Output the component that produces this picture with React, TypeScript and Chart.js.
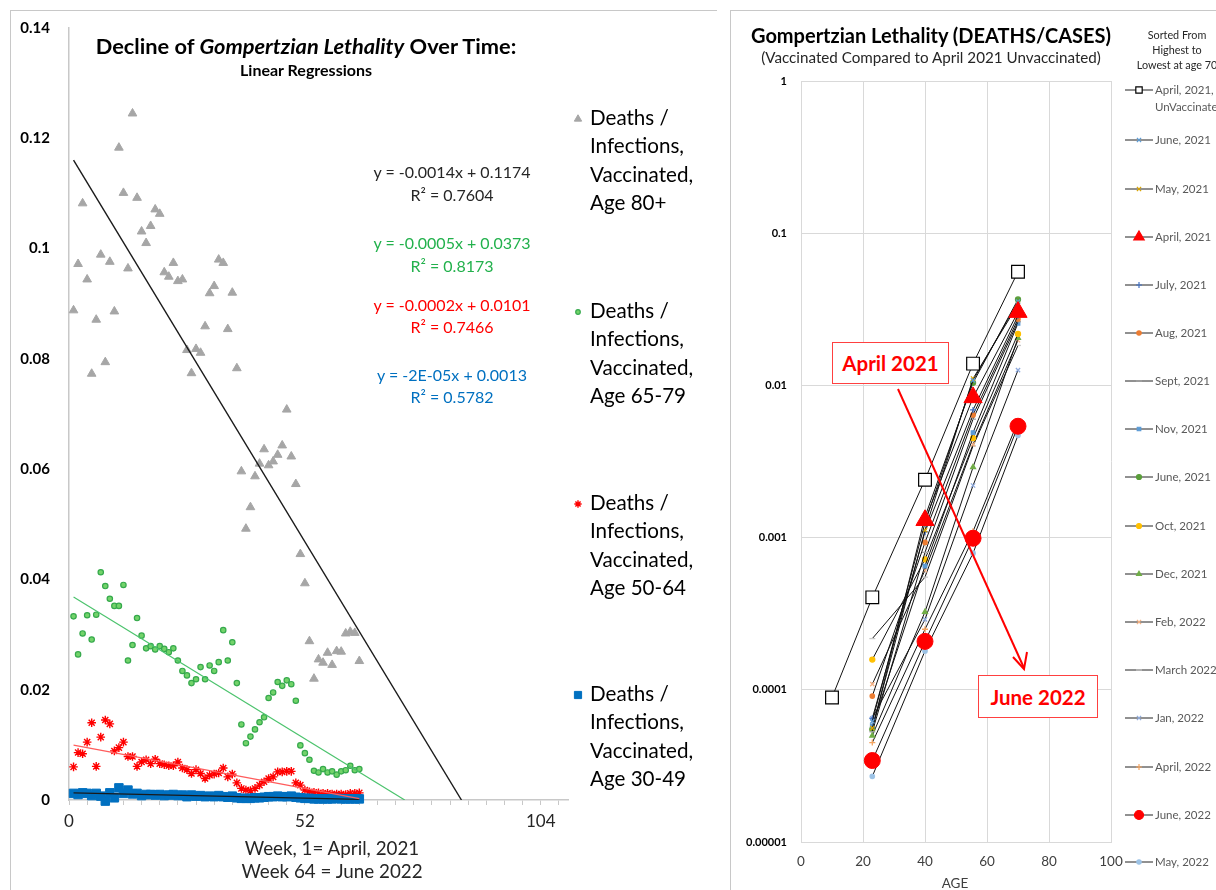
import React, { useEffect, useRef } from "react";
import { Chart, registerables } from "chart.js";
import { drawPoint } from "chart.js/helpers";

Chart.register(...registerables);

const FONT = "Lato, 'Open Sans', 'DejaVu Sans', sans-serif";

// ---------------- LEFT CHART DATA ----------------
const weeks = [
  1, 2, 3, 4, 5, 6, 7, 8, 9, 10, 11, 12, 13, 14, 15, 16, 17, 18, 19, 20, 21, 22, 23, 24, 25, 26, 27, 28, 29, 30, 31, 32,
  33, 34, 35, 36, 37, 38, 39, 40, 41, 42, 43, 44, 45, 46, 47, 48, 49, 50, 51, 52, 53, 54, 55, 56, 57, 58, 59, 60, 61, 62, 63, 64,
];
const lethalityAge80 = [
  0.0888, 0.0972, 0.1082, 0.0944, 0.0773, 0.0871, 0.0989, 0.0794, 0.0976, 0.0886, 0.1183, 0.1101, 0.0964, 0.1245, 0.1092, 0.1031,
  0.101, 0.1041, 0.1071, 0.1063, 0.0957, 0.0949, 0.0974, 0.0941, 0.0944, 0.0816, 0.0774, 0.0818, 0.0811, 0.0859, 0.0919, 0.0932,
  0.098, 0.0974, 0.0854, 0.092, 0.0783, 0.0596, 0.0492, 0.0531, 0.0587, 0.061, 0.0636, 0.0607, 0.0614, 0.0626, 0.0643, 0.0708,
  0.0623, 0.0573, 0.0446, 0.0393, 0.0288, 0.022, 0.0255, 0.0249, 0.0267, 0.0245, 0.027, 0.0269, 0.0302, 0.0305, 0.0303, 0.0252,
];
const lethalityAge65 = [
  0.0333, 0.0264, 0.0302, 0.0335, 0.0291, 0.0336, 0.0413, 0.0388, 0.0365, 0.0352, 0.0352, 0.039, 0.0253, 0.0281, 0.033, 0.0298,
  0.0275, 0.0279, 0.0273, 0.0279, 0.0274, 0.0268, 0.0275, 0.0253, 0.0234, 0.0226, 0.0212, 0.0219, 0.0241, 0.0219, 0.0244, 0.0234,
  0.025, 0.0308, 0.0253, 0.0286, 0.0212, 0.0137, 0.0103, 0.0115, 0.0128, 0.0141, 0.015, 0.0185, 0.0195, 0.0214, 0.0207, 0.0217,
  0.021, 0.018, 0.0099, 0.0085, 0.0073, 0.0053, 0.005, 0.0056, 0.005, 0.0052, 0.0046, 0.0052, 0.0054, 0.0062, 0.0054, 0.0056,
];
const lethalityAge50 = [
  0.006, 0.0086, 0.0084, 0.0105, 0.014, 0.0061, 0.0114, 0.0145, 0.0138, 0.0089, 0.0095, 0.0105, 0.0079, 0.0079, 0.0061, 0.0069,
  0.0073, 0.0066, 0.0074, 0.0066, 0.0064, 0.0062, 0.0062, 0.0069, 0.0058, 0.0055, 0.0048, 0.0055, 0.0048, 0.0039, 0.0045, 0.0047,
  0.0049, 0.0058, 0.0042, 0.0047, 0.0031, 0.0021, 0.0018, 0.0017, 0.0021, 0.0027, 0.0033, 0.0039, 0.0042, 0.0051, 0.0051, 0.0052,
  0.0052, 0.0031, 0.0027, 0.0018, 0.0015, 0.0014, 0.0013, 0.0012, 0.0012, 0.0011, 0.0011, 0.0011, 0.001, 0.0012, 0.0012, 0.0013,
];
const lethalityAge30 = [
  0.0012, 0.001, 0.0013, 0.0012, 0.0008, 0.0012, 0.0007, -0.0002, 0.0013, 0.0004, 0.0022, 0.0012, 0.0018, 0.0011, 0.0012, 0.0008,
  0.001, 0.001, 0.0009, 0.001, 0.0008, 0.0009, 0.001, 0.0008, 0.0009, 0.0006, 0.0009, 0.0007, 0.0008, 0.0006, 0.0007, 0.0006,
  0.0008, 0.0006, 0.0005, 0.0007, 0.0004, 0.0003, 0.0003, 0.0003, 0.0004, 0.0004, 0.0005, 0.0006, 0.0006, 0.0007, 0.0006, 0.0006,
  0.0007, 0.0005, 0.0004, 0.0003, 0.0003, 0.0002, 0.0002, 0.0002, 0.0002, 0.0002, 0.0003, 0.0002, 0.0002, 0.0002, 0.0002, 0.0002,
];
const leftLegendLines = [
  ["Deaths /", "Infections,", "Vaccinated,", "Age 80+"],
  ["Deaths /", "Infections,", "Vaccinated,", "Age 65-79"],
  ["Deaths /", "Infections,", "Vaccinated,", "Age 50-64"],
  ["Deaths /", "Infections,", "Vaccinated,", "Age 30-49"],
];
const trendSlopes = [-0.001357, -0.000504, -0.000154, -0.0000185];
const trendIntercepts = [0.1174, 0.0373, 0.0101, 0.0013];
const trendForecastToZero = [true, true, false, false];
const regressionEquations = [
  ["y = -0.0014x + 0.1174", "R² = 0.7604"],
  ["y = -0.0005x + 0.0373", "R² = 0.8173"],
  ["y = -0.0002x + 0.0101", "R² = 0.7466"],
  ["y = -2E-05x + 0.0013", "R² = 0.5782"],
];
const leftXTickLabels = [0, 52, 104];
const leftYTicks = [0, 0.02, 0.04, 0.06, 0.08, 0.1, 0.12, 0.14];

// ---------------- RIGHT CHART DATA ----------------
const unvaxAges = [10, 23, 40, 55.5, 70];
const vaxAges = [23, 40, 55.5, 70];
const rightSeriesNames = [
  "April, 2021, UnVaccinated",
  "June, 2021",
  "May, 2021",
  "April, 2021",
  "July, 2021",
  "Aug, 2021",
  "Sept, 2021",
  "Nov, 2021",
  "June, 2021",
  "Oct, 2021",
  "Dec, 2021",
  "Feb, 2022",
  "March 2022",
  "Jan, 2022",
  "April, 2022",
  "June, 2022",
  "May, 2022",
];
const rightSeriesValues: (number | null)[][] = [
  [0.000089, 0.000405, 0.0024, 0.0139, 0.0558],
  [0.000062, 0.00125, 0.0108, 0.0355],
  [0.000056, 0.00112, 0.0111, 0.034],
  [null, 0.0013, 0.00834, 0.0303],
  [0.000065, 0.00109, 0.0069, 0.0287],
  [0.000091, 0.00093, 0.0064, 0.0273],
  [0.000053, 0.0008, 0.006, 0.0262],
  [0.000058, 0.00065, 0.0049, 0.0256],
  [0.000055, 0.00137, 0.0104, 0.0367],
  [0.000158, 0.00072, 0.0045, 0.0218],
  [0.00005, 0.000325, 0.0029, 0.0205],
  [0.000109, 0.00061, 0.0041, 0.0198],
  [0.000217, 0.00055, 0.004, 0.0183],
  [0.000065, 0.00029, 0.0022, 0.0126],
  [0.000045, 0.00025, 0.0011, 0.0058],
  [0.0000343, 0.000208, 0.00099, 0.00539],
  [0.000027, 0.00018, 0.00079, 0.0047],
];
const rightYTicks = [0.00001, 0.0001, 0.001, 0.01, 0.1, 1];
const rightYTickLabels = ["0.00001", "0.0001", "0.001", "0.01", "0.1", "1"];

// styles (not data)
const rightPointStyle = [
  "rect", "crossRot", "crossRot", "triangle", "cross", "circle", "line", "rect", "circle",
  "circle", "triangle", "crossRot", "line", "crossRot", "cross", "circle", "circle",
];
const rightPointColor = [
  "#000000", "#5b9bd5", "#d9a400", "#ff0000", "#4472c4", "#ed7d31", "#a5a5a5", "#5b9bd5", "#5a9e3a",
  "#ffc000", "#70ad47", "#f4b183", "#c9c9c9", "#8faadc", "#f4a460", "#ff0000", "#9dc3e6",
];
const rightPointRadius = [9, 3, 3, 10.5, 3, 2.2, 3, 2.5, 2.5, 2.5, 2.8, 3, 3, 3, 3, 8, 2.2];
const rightLegendRadius = [4.5, 3, 3, 6, 3, 2.2, 3, 2.5, 2.5, 2.5, 2.8, 3, 3, 3, 3, 4.5, 2.2];
const rightLegendRows = [90, 140, 189, 237, 285, 333, 381, 429, 477, 526, 574, 622, 670, 718, 767, 815, 862];

const leftMarkerStyles = [
  { pointStyle: "triangle", radius: 5, bg: "#a6a6a6", border: "#a6a6a6", bw: 1 },
  { pointStyle: "circle", radius: 2.7, bg: "#73d36a", border: "#35a94c", bw: 1.2 },
  { pointStyle: "star", radius: 4.3, bg: "#ff0000", border: "#ff0000", bw: 1.4 },
  { pointStyle: "rect", radius: 6, bg: "#0070c0", border: "#0070c0", bw: 1 },
];
const trendColors = ["#1a1a1a", "#4cc36d", "#ff5c5c", "#1a1a1a"];
const eqColors = ["#262626", "#22b14c", "#ff0000", "#0070c0"];
const eqRows = [
  [172, 195],
  [243, 266],
  [305, 327],
  [375, 397],
];
const leftLegendRows = [118, 311, 503, 694];

function Txt(props: any) {
  const { x, y, size, weight = 400, italic = false, color = "#000", align = "center", children } = props;
  const tx = align === "center" ? "-50%" : align === "right" ? "-100%" : "0";
  return (
    <div
      style={{
        position: "absolute",
        left: x,
        top: y,
        transform: `translate(${tx},-50%)`,
        fontFamily: FONT,
        fontSize: size,
        fontWeight: weight,
        fontStyle: italic ? "italic" : "normal",
        color,
        whiteSpace: "nowrap",
        lineHeight: 1.15,
      }}
    >
      {children}
    </div>
  );
}

function LeftChart() {
  const ref = useRef<HTMLCanvasElement>(null);
  useEffect(() => {
    const series = [lethalityAge80, lethalityAge65, lethalityAge50, lethalityAge30];
    const datasets: any[] = [];
    series.forEach((vals, i) => {
      const st = leftMarkerStyles[i];
      datasets.push({
        label: leftLegendLines[i].join(" "),
        data: weeks.map((w, k) => ({ x: w, y: vals[k] })),
        pointStyle: st.pointStyle,
        pointRadius: st.radius,
        pointBackgroundColor: st.bg,
        pointBorderColor: st.border,
        pointBorderWidth: st.bw,
        showLine: false,
        clip: false,
        order: 10 - i,
      });
    });
    trendSlopes.forEach((m, i) => {
      const b = trendIntercepts[i];
      const xEnd = trendForecastToZero[i] ? -b / m : weeks[weeks.length - 1];
      datasets.push({
        label: "trend" + i,
        data: [
          { x: weeks[0], y: b + m * weeks[0] },
          { x: xEnd, y: b + m * xEnd },
        ],
        showLine: true,
        borderColor: trendColors[i],
        borderWidth: i === 0 ? 1.4 : 1.2,
        pointRadius: 0,
        order: 1,
      });
    });
    const legendPlugin = {
      id: "leftLegendMarkers",
      afterDraw(chart: any) {
        const ctx = chart.ctx;
        leftMarkerStyles.forEach((st, i) => {
          ctx.save();
          ctx.fillStyle = st.bg;
          ctx.strokeStyle = st.border;
          ctx.lineWidth = st.bw;
          drawPoint(ctx, { pointStyle: st.pointStyle, radius: st.radius * 0.85, rotation: 0, borderWidth: st.bw } as any, 578, leftLegendRows[i] + 1);
          ctx.restore();
        });
      },
    };
    const chart = new Chart(ref.current!, {
      type: "scatter",
      data: { datasets },
      plugins: [legendPlugin],
      options: {
        responsive: false,
        animation: false,
        devicePixelRatio: 1,
        layout: { padding: { left: 0, right: 152, top: 22, bottom: 0 } },
        plugins: { legend: { display: false }, tooltip: { enabled: false }, title: { display: false } },
        scales: {
          x: {
            type: "linear",
            min: 0,
            max: 110,
            afterBuildTicks: (s: any) => {
              const t = [];
              for (let v = 0; v <= s.max; v += 4) t.push({ value: v });
              s.ticks = t;
            },
            afterFit: (s: any) => {
              s.height = 90;
            },
            ticks: {
              autoSkip: false,
              maxRotation: 0,
              padding: 6,
              color: "#262626",
              font: { family: FONT, size: 17 },
              callback: (v: any) => (leftXTickLabels.includes(Number(v)) ? String(v) : ""),
            },
            grid: { display: true, drawOnChartArea: false, drawTicks: true, tickLength: 5, color: "#c8c8c8" },
            border: { display: true, color: "#c8c8c8", width: 1.5 },
          },
          y: {
            type: "linear",
            min: 0,
            max: 0.14,
            afterBuildTicks: (s: any) => {
              s.ticks = leftYTicks.map((v) => ({ value: v }));
            },
            afterFit: (s: any) => {
              s.width = 69;
            },
            ticks: {
              padding: 19,
              color: "#000",
              font: { family: FONT, size: 15, weight: "bold" },
              callback: (v: any) => String(parseFloat(Number(v).toFixed(2))),
            },
            grid: { display: false, drawTicks: false },
            border: { display: true, color: "#c8c8c8", width: 1.5 },
          },
        },
      },
    });
    return () => chart.destroy();
  }, []);
  return <canvas ref={ref} width={720} height={890} style={{ position: "absolute", left: 0, top: 0 }} />;
}

function RightChart() {
  const ref = useRef<HTMLCanvasElement>(null);
  useEffect(() => {
    const datasets: any[] = rightSeriesValues.map((vals, i) => {
      const xs = i === 0 ? unvaxAges : vaxAges;
      const big = i === 0 || i === 3 || i === 15;
      return {
        label: rightSeriesNames[i],
        data: xs.map((a, k) => ({ x: a, y: vals[k] })),
        showLine: true,
        borderColor: "#111111",
        borderWidth: 1,
        pointStyle: rightPointStyle[i],
        pointRadius: rightPointRadius[i],
        pointBackgroundColor: i === 0 ? "#ffffff" : rightPointColor[i],
        pointBorderColor: rightPointColor[i],
        pointBorderWidth: i === 0 ? 1.2 : big ? 1 : 1.3,
        spanGaps: false,
        clip: false,
        order: big ? 1 : 5,
      };
    });
    const legendPlugin = {
      id: "rightLegendMarkers",
      afterDraw(chart: any) {
        const ctx = chart.ctx;
        const ox = 720;
        rightLegendRows.forEach((yy, i) => {
          ctx.save();
          ctx.strokeStyle = "#222";
          ctx.lineWidth = 1;
          ctx.beginPath();
          ctx.moveTo(1125 - ox, yy);
          ctx.lineTo(1153 - ox, yy);
          ctx.stroke();
          ctx.fillStyle = i === 0 ? "#ffffff" : rightPointColor[i];
          ctx.strokeStyle = rightPointColor[i];
          ctx.lineWidth = 1.2;
          drawPoint(ctx, { pointStyle: rightPointStyle[i], radius: rightLegendRadius[i], rotation: 0, borderWidth: ctx.lineWidth } as any, 1139 - ox, yy);
          ctx.restore();
        });
      },
    };
    const chart = new Chart(ref.current!, {
      type: "scatter",
      data: { datasets },
      plugins: [legendPlugin],
      options: {
        responsive: false,
        animation: false,
        devicePixelRatio: 1,
        layout: { padding: { left: 0, right: 105, top: 81, bottom: 0 } },
        plugins: { legend: { display: false }, tooltip: { enabled: false } },
        scales: {
          x: {
            type: "linear",
            min: 0,
            max: 100,
            ticks: { stepSize: 20, padding: 12, color: "#404040", font: { family: FONT, size: 13.5 }, maxRotation: 0 },
            afterFit: (s: any) => {
              s.height = 48;
            },
            grid: { color: "#d9d9d9", drawTicks: false, lineWidth: 1 },
            border: { display: true, color: "#d9d9d9" },
          },
          y: {
            type: "logarithmic",
            min: 0.00001,
            max: 1,
            afterBuildTicks: (s: any) => {
              s.ticks = rightYTicks.map((v) => ({ value: v }));
            },
            afterFit: (s: any) => {
              s.width = 81;
            },
            ticks: {
              padding: 14,
              color: "#000",
              font: { family: FONT, size: 11, weight: "bold" },
              callback: (v: any) => {
                const k = rightYTicks.findIndex((t) => Math.abs(Math.log10(t) - Math.log10(Number(v))) < 1e-6);
                return k >= 0 ? rightYTickLabels[k] : "";
              },
            },
            grid: { color: "#d9d9d9", drawTicks: false, lineWidth: 1 },
            border: { display: true, color: "#d9d9d9" },
          },
        },
      },
    });
    return () => chart.destroy();
  }, []);
  return <canvas ref={ref} width={496} height={890} style={{ position: "absolute", left: 720, top: 0 }} />;
}

export default function App() {
  const legendColor = "#595959";
  const boxStyle: any = {
    position: "absolute",
    border: "1.5px solid #ff4040",
    background: "#fff",
    boxSizing: "border-box",
    display: "flex",
    alignItems: "center",
    justifyContent: "center",
    fontFamily: FONT,
    fontWeight: 700,
    fontSize: 20.5,
    color: "#ff0000",
  };
  return (
    <div style={{ position: "fixed", left: 0, top: 0, width: 1216, height: 890, overflow: "hidden", background: "#fff" }}>
      {/* panel frames */}
      <div style={{ position: "absolute", left: 10, top: 10, width: 706, height: 890, borderLeft: "1.5px solid #c8c8c8", borderTop: "1.5px solid #c8c8c8" }} />
      <div style={{ position: "absolute", left: 730, top: 10, width: 500, height: 890, borderLeft: "1.5px solid #c8c8c8", borderTop: "1.5px solid #c8c8c8" }} />

      <LeftChart />
      <RightChart />

      {/* left panel texts */}
      <Txt x={306} y={46} size={21.8} weight={700}>
        Decline of <i>Gompertzian Lethality</i> Over Time:
      </Txt>
      <Txt x={306} y={70} size={16} weight={700}>
        Linear Regressions
      </Txt>
      {regressionEquations.map((eq, i) => (
        <React.Fragment key={"eq" + i}>
          <Txt x={452} y={eqRows[i][0]} size={16} color={eqColors[i]}>
            {eq[0]}
          </Txt>
          <Txt x={452} y={eqRows[i][1]} size={16} color={eqColors[i]}>
            {eq[1]}
          </Txt>
        </React.Fragment>
      ))}
      {leftLegendLines.map((lines, i) =>
        lines.map((ln, j) => (
          <Txt key={"ll" + i + "_" + j} x={590} y={leftLegendRows[i] + j * 28.4} size={20.6} align="left" color="#000">
            {ln}
          </Txt>
        ))
      )}
      <Txt x={332} y={848} size={18.8} color="#262626">
        Week, 1= April, 2021
      </Txt>
      <Txt x={332} y={871} size={18.8} color="#262626">
        Week 64 = June 2022
      </Txt>

      {/* right panel texts */}
      <Txt x={931} y={35} size={20} weight={700}>
        Gompertzian Lethality (DEATHS/CASES)
      </Txt>
      <Txt x={931} y={58} size={15.2} color="#262626">
        (Vaccinated Compared to April 2021 Unvaccinated)
      </Txt>
      <Txt x={1177} y={35} size={10.8} color="#262626">
        Sorted From
      </Txt>
      <Txt x={1177} y={50} size={10.8} color="#262626">
        Highest to
      </Txt>
      <Txt x={1177} y={65} size={10.8} color="#262626">
        Lowest at age 70
      </Txt>
      {rightSeriesNames.map((nm, i) =>
        i === 0 ? (
          <React.Fragment key={"rl" + i}>
            <Txt x={1155} y={rightLegendRows[i]} size={11.5} align="left" color={legendColor}>
              April, 2021,
            </Txt>
            <Txt x={1155} y={rightLegendRows[i] + 17} size={11.5} align="left" color={legendColor}>
              UnVaccinated
            </Txt>
          </React.Fragment>
        ) : (
          <Txt key={"rl" + i} x={1155} y={rightLegendRows[i]} size={11.5} align="left" color={legendColor}>
            {nm}
          </Txt>
        )
      )}
      <Txt x={955} y={884} size={13.5} color="#404040">
        AGE
      </Txt>

      {/* annotations */}
      <svg width={1216} height={890} style={{ position: "absolute", left: 0, top: 0, pointerEvents: "none" }}>
        <line x1={898} y1={389} x2={1024} y2={668} stroke="#ff0000" strokeWidth={2} />
        <polyline points="1013,657 1024,669 1027,652" fill="none" stroke="#ff0000" strokeWidth={2} />
      </svg>
      <div style={{ ...boxStyle, left: 832, top: 342, width: 117, height: 42 }}>April 2021</div>
      <div style={{ ...boxStyle, left: 978, top: 675, width: 120, height: 43 }}>June 2022</div>
    </div>
  );
}
